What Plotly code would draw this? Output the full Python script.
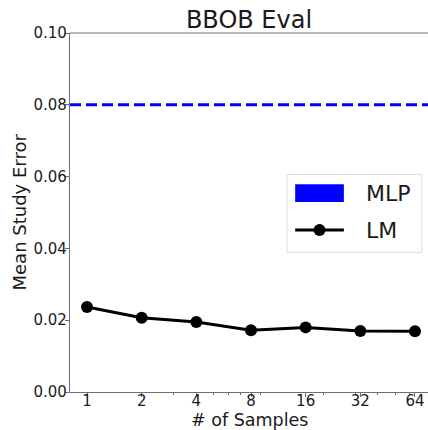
import math
import plotly.graph_objects as go

# Data
samples = [1, 2, 4, 8, 16, 32, 64]
lm_error = [0.0237, 0.0207, 0.0195, 0.0172, 0.0180, 0.0170, 0.0169]
mlp_error = 0.08
x_tick_labels = ["1", "2", "4", "8", "16", "32", "64"]
y_ticks = [0.00, 0.02, 0.04, 0.06, 0.08, 0.10]
minor_x_ticks = [3, 5, 6, 7, 9, 20, 30, 40, 50, 60]
series_names = ["MLP", "LM"]

FONT = "DejaVu Sans"
SPINE = "#6e6e6e"
TEXT = "#1a1a1a"

fig = go.Figure()

fig.add_trace(go.Scatter(
    x=samples, y=lm_error, mode="lines+markers", name=series_names[1],
    line=dict(color="black", width=3),
    marker=dict(color="black", size=12),
    showlegend=False,
))

# MLP baseline: dashed horizontal line across the axes
fig.add_shape(type="line", xref="paper", x0=0, x1=1, yref="y",
              y0=mlp_error, y1=mlp_error,
              line=dict(color="#0000ff", width=3, dash="11px,5px"))

# top spine
fig.add_shape(type="line", xref="paper", yref="paper", x0=0, x1=1, y0=1, y1=1,
              line=dict(color=SPINE, width=1.2))

# Legend box drawn in axes-fraction coordinates
fig.add_shape(type="rect", xref="paper", yref="paper",
              x0=0.606, x1=0.983, y0=0.389, y1=0.606,
              line=dict(color="#dddddd", width=1), fillcolor="white", layer="above")
fig.add_shape(type="rect", xref="paper", yref="paper",
              x0=0.629, x1=0.765, y0=0.529, y1=0.579,
              line=dict(width=0), fillcolor="#0000ff", layer="above")
fig.add_shape(type="line", xref="paper", yref="paper",
              x0=0.629, x1=0.765, y0=0.451, y1=0.451,
              line=dict(color="black", width=3), layer="above")
fig.add_shape(type="circle", xref="paper", yref="paper",
              xsizemode="pixel", ysizemode="pixel",
              xanchor=0.697, yanchor=0.451, x0=-6, x1=6, y0=-6, y1=6,
              line=dict(width=0), fillcolor="black", layer="above")
for name, ypos in zip(series_names, [0.554, 0.451]):
    fig.add_annotation(text=name, xref="paper", yref="paper", x=0.82, y=ypos,
                       xanchor="left", yanchor="middle", showarrow=False,
                       font=dict(family=FONT, size=22, color=TEXT))

# Axis titles
fig.add_annotation(text="# of Samples", xref="paper", yref="paper",
                   x=0.5, y=0, yshift=-28, xanchor="center", yanchor="middle",
                   showarrow=False, font=dict(family=FONT, size=17.5, color=TEXT))
fig.add_annotation(text="Mean Study Error", xref="paper", yref="paper",
                   x=0, y=0.5, xshift=-51, xanchor="center", yanchor="middle",
                   textangle=-90, showarrow=False,
                   font=dict(family=FONT, size=18, color=TEXT))

log2 = math.log10(2)
fig.update_layout(
    width=428, height=430,
    margin=dict(l=70, r=0, t=33, b=38),
    paper_bgcolor="white", plot_bgcolor="white",
    font=dict(family=FONT, color=TEXT),
    title=dict(text="BBOB Eval", x=0.5, xref="paper", xanchor="center",
               y=1 - 20 / 430, yref="container", yanchor="middle",
               font=dict(family=FONT, size=24, color=TEXT)),
    xaxis=dict(
        type="log", range=[-0.311 * log2, 6.238 * log2],
        tickmode="array", tickvals=samples, ticktext=x_tick_labels,
        ticks="outside", ticklen=4, tickwidth=1, tickcolor=SPINE,
        ticklabelstandoff=-9,
        tickfont=dict(family=FONT, size=15, color=TEXT),
        showline=True, linecolor=SPINE, linewidth=1.2, mirror=False,
        showgrid=False, zeroline=False, automargin=False,
        minor=dict(tickmode="array", tickvals=minor_x_ticks, ticks="outside",
                   ticklen=2, tickcolor=SPINE, showgrid=False),
    ),
    yaxis=dict(
        range=[0, 0.10], tickmode="array", tickvals=y_ticks, tickformat=".2f",
        ticks="outside", ticklen=4, tickwidth=1, tickcolor=SPINE,
        ticklabelstandoff=-5,
        tickfont=dict(family=FONT, size=15, color=TEXT),
        showline=True, linecolor=SPINE, linewidth=1.2, mirror=False,
        showgrid=False, zeroline=False, automargin=False,
    ),
)

fig.write_html("out.html")
